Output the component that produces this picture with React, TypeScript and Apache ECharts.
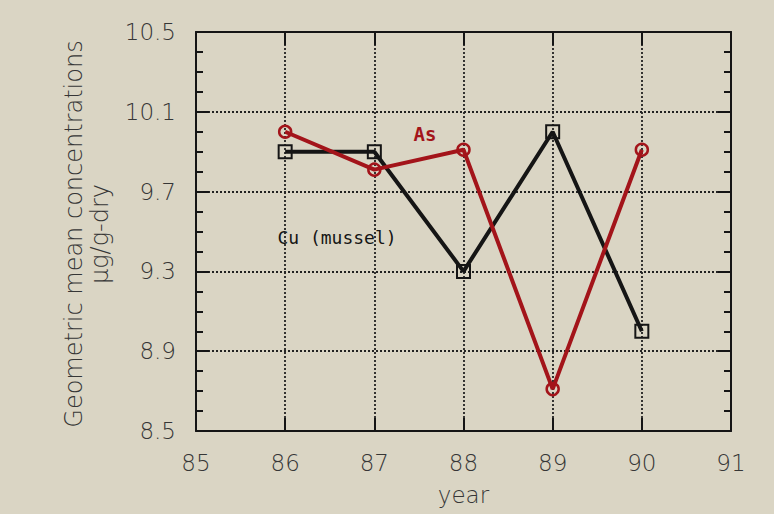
import React, { useEffect, useRef } from "react";
import * as echarts from "echarts";

// Survey years (19xx) and geometric mean concentrations, µg/g-dry
const years = [86, 87, 88, 89, 90];
const asValues = [10.0, 9.81, 9.91, 8.71, 9.91];
const cuValues = [9.9, 9.9, 9.3, 10.0, 9.0];

const xMin = 85;
const xMax = 91;
const yMin = 8.5;
const yMax = 10.5;
const yStep = 0.4;

const BG = "#dad5c4";
const INK = "#151515";
const RED = "#a3141a";
const LABEL = "#363636";
const FONT = "'DejaVu Sans', 'Liberation Sans', sans-serif";
const MONO = "'DejaVu Sans Mono', 'Liberation Mono', monospace";

const dotted = { type: [2, 2] as number[], color: "#222222", width: 1.8 };

function App() {
  const ref = useRef<HTMLDivElement>(null);

  useEffect(() => {
    if (!ref.current) return;
    const chart = echarts.init(ref.current, null, { renderer: "svg" });

    const tickStyle = { inside: true, length: 13, lineStyle: { color: INK, width: 2 } };
    const minorTickStyle = { show: true, splitNumber: 4, length: 7, lineStyle: { color: INK, width: 2 } };
    const axisLine = { show: true, onZero: false, lineStyle: { color: INK, width: 2 } };

    chart.setOption({
      animation: false,
      backgroundColor: BG,
      grid: { left: 196, right: 43, top: 32, bottom: 83 },
      xAxis: [
        {
          type: "value",
          position: "bottom",
          min: xMin,
          max: xMax,
          interval: 1,
          axisLine,
          axisTick: tickStyle,
          axisLabel: { margin: 20, fontSize: 23, color: LABEL, fontFamily: FONT, fontWeight: 200 },
          splitLine: { show: true, lineStyle: dotted },
          name: "year",
          nameLocation: "middle",
          nameGap: 52,
          nameTextStyle: { fontSize: 23, color: LABEL, fontFamily: FONT, fontWeight: 200 },
        },
        {
          type: "value",
          position: "top",
          min: xMin,
          max: xMax,
          interval: 1,
          axisLine,
          axisTick: tickStyle,
          axisLabel: { show: false },
          splitLine: { show: false },
        },
      ],
      yAxis: [
        {
          type: "value",
          position: "left",
          min: yMin,
          max: yMax,
          interval: yStep,
          axisLine,
          axisTick: tickStyle,
          minorTick: minorTickStyle,
          axisLabel: {
            margin: 20,
            fontSize: 23,
            color: LABEL,
            fontFamily: FONT,
            fontWeight: 200,
            formatter: (v: number) => v.toFixed(1),
          },
          splitLine: { show: true, lineStyle: dotted },
        },
        {
          type: "value",
          position: "right",
          min: yMin,
          max: yMax,
          interval: yStep,
          axisLine,
          axisTick: tickStyle,
          minorTick: minorTickStyle,
          axisLabel: { show: false },
          splitLine: { show: false },
        },
      ],
      series: [
        {
          name: "Cu (mussel)",
          type: "line",
          data: years.map((y, i) => [y, cuValues[i]]),
          lineStyle: { color: INK, width: 4 },
          symbol: "rect",
          symbolSize: 13,
          itemStyle: { color: "rgba(0,0,0,0)", borderColor: INK, borderWidth: 2 },
          z: 3,
        },
        {
          name: "As",
          type: "line",
          data: years.map((y, i) => [y, asValues[i]]),
          lineStyle: { color: RED, width: 4 },
          symbol: "circle",
          symbolSize: 12,
          itemStyle: { color: "rgba(0,0,0,0)", borderColor: RED, borderWidth: 2.5 },
          z: 4,
        },
      ],
      graphic: [
        {
          type: "text",
          x: 87,
          y: 234,
          rotation: Math.PI / 2,
          style: {
            text: "Geometric mean concentrations\nµg/g-dry",
            fill: LABEL,
            fontSize: 24,
            fontFamily: FONT,
            fontWeight: 200,
            lineHeight: 26,
            align: "center",
            verticalAlign: "middle",
          },
        },
        {
          type: "text",
          x: 425,
          y: 134,
          style: {
            text: "As",
            fill: RED,
            fontSize: 19,
            fontFamily: MONO,
            fontWeight: "bold",
            align: "center",
            verticalAlign: "middle",
          },
        },
        {
          type: "text",
          x: 337,
          y: 237,
          style: {
            text: "Cu (mussel)",
            fill: INK,
            fontSize: 18,
            fontFamily: MONO,
            align: "center",
            verticalAlign: "middle",
          },
        },
      ],
    });

    return () => chart.dispose();
  }, []);

  return (
    <div
      ref={ref}
      style={{ position: "fixed", left: 0, top: 0, width: 774, height: 514 }}
    />
  );
}

export default App;
